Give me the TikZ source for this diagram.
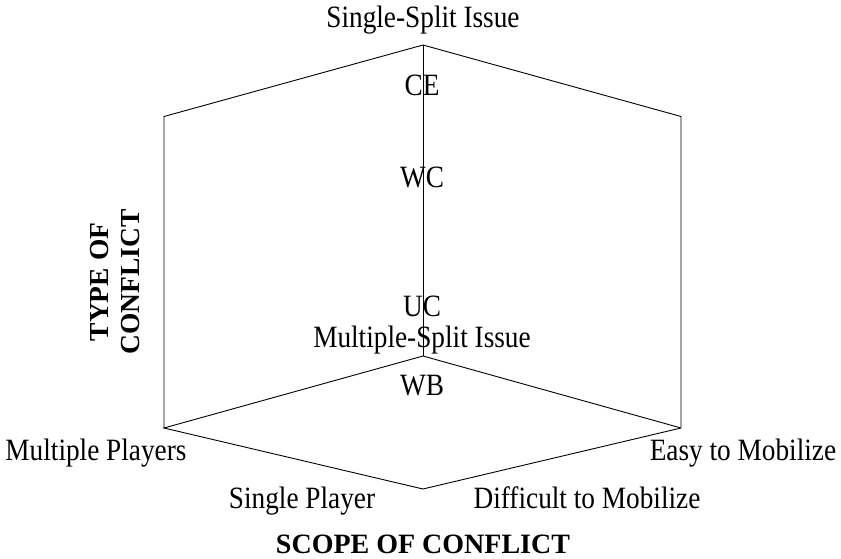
\documentclass[tikz,border=0pt]{standalone}
\usepackage{fontspec}
\setmainfont{Liberation Serif}[FakeStretch=0.88]
\newfontfamily\boldfam{Liberation Serif}
\begin{document}
\begin{tikzpicture}[x=1pt,y=-1pt,
  edge/.style={line width=0.9pt, line join=miter},
  lab/.style={inner sep=0pt, anchor=base, font=\fontsize{31}{36}\selectfont},
  axislab/.style={inner sep=0pt, font=\boldfam\bfseries\fontsize{27.5}{31}\selectfont}]
\useasboundingbox (0,0) rectangle (841,559);
% vertices
\coordinate (T) at (423,45);
\coordinate (TL) at (164,116.5);
\coordinate (TR) at (681,116.5);
\coordinate (BL) at (164,428);
\coordinate (BR) at (681,428);
\coordinate (C) at (423,356);
\coordinate (B) at (423,489);
% edges
\draw[edge] (BL) -- (TL) -- (T) -- (TR) -- (BR) -- (B) -- (BL) -- (C) -- (BR);
\draw[edge] (T) -- (C);
% labels
\node[lab] (ssi) at (423,28) {Single-Split Issue};
\node[lab] (ce) at (422,96) {CE};
\node[lab] (wc) at (422,187) {WC};
\node[lab] (uc) at (422,316) {UC};
\node[lab] (msi) at (422,347) {Multiple-Split Issue};
\node[lab] (wb) at (422,395) {WB};
\node[lab] (mp) at (96,460) {Multiple Players};
\node[lab] (etm) at (743,460) {Easy to Mobilize};
\node[lab] (sp) at (302,508) {Single Player};
\node[lab] (dtm) at (587,508) {Difficult to Mobilize};
\node[axislab, anchor=base, font=\boldfam\bfseries\fontsize{28}{32}\selectfont] (scope) at (423,553) {SCOPE OF CONFLICT};
\node[axislab, rotate=90, align=center] (type) at (115,282) {TYPE OF\\CONFLICT};
\end{tikzpicture}
\end{document}
